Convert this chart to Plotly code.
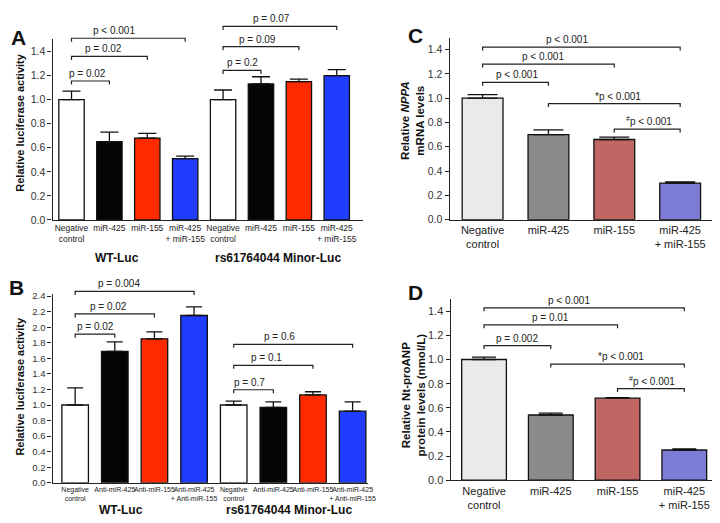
import plotly.graph_objects as go

W, H = 720, 523

# ---- data ----
a_labels = ["Negative<br>control", "miR-425", "miR-155", "miR-425<br>+ miR-155"] * 2
a_values = [1.00, 0.65, 0.68, 0.51, 1.00, 1.13, 1.15, 1.20]
a_errors = [0.07, 0.08, 0.04, 0.02, 0.08, 0.06, 0.02, 0.05]

b_labels = ["Negative<br>control", "Anti-miR-425", "Anti-miR-155",
            "Anti-miR-425<br>+ Anti-miR-155"] * 2
b_values = [1.00, 1.69, 1.85, 2.15, 1.00, 0.97, 1.13, 0.92]
b_errors = [0.22, 0.12, 0.09, 0.11, 0.05, 0.07, 0.04, 0.12]

c_labels = ["Negative<br>control", "miR-425", "miR-155", "miR-425<br>+ miR-155"]
c_values = [1.00, 0.70, 0.66, 0.30]
c_errors = [0.03, 0.04, 0.02, 0.01]

d_labels = ["Negative<br>control", "miR-425", "miR-155", "miR-425<br>+ miR-155"]
d_values = [1.00, 0.54, 0.68, 0.25]
d_errors = [0.02, 0.015, 0.005, 0.01]

# brackets: (left bar, right bar, level, text, text position)
a_brackets = [
    (0, 1, 1.155, "p = 0.02", 0.42),
    (0, 2, 1.36, "p = 0.02", 0.85),
    (0, 3, 1.51, "p < 0.001", 1.11),
    (4, 5, 1.243, "p = 0.2", 4.52),
    (4, 6, 1.44, "p = 0.09", 4.9),
    (4, 7, 1.609, "p = 0.07", 5.29),
]
b_brackets = [
    (0, 1, 1.91, "p = 0.02", 0.52),
    (0, 2, 2.17, "p = 0.02", 0.83),
    (0, 3, 2.46, "p = 0.004", 1.1),
    (4, 5, 1.196, "p = 0.7", 4.41),
    (4, 6, 1.51, "p = 0.1", 4.83),
    (4, 7, 1.78, "p = 0.6", 5.16),
]
c_brackets = [
    (0, 1, 1.13, "p < 0.001", 0.52),
    (0, 2, 1.28, "p < 0.001", 0.92),
    (0, 3, 1.42, "p < 0.001", 1.28),
    (1, 3, 0.956, "*p < 0.001", 2.05),
    (2, 3, 0.746, "<sup>#</sup>p < 0.001", 2.52),
]
d_brackets = [
    (0, 1, 1.116, "p = 0.002", 0.5),
    (0, 2, 1.287, "p = 0.01", 1.0),
    (0, 3, 1.428, "p < 0.001", 1.28),
    (1, 3, 0.962, "*p < 0.001", 2.05),
    (2, 3, 0.759, "<sup>#</sup>p < 0.001", 2.52),
]

bright = ["#ffffff", "#050505", "#ff2a00", "#1f3cff"] * 2
soft = ["#fafafa", "#919191", "#cc6a66", "#6f6fd2"]
soft_dots = ["#eeeeee", "#858585", "#c05f5b", "#6565c6"]

FONT = "Arial, Liberation Sans, sans-serif"
INK = "#222222"


def px_x(p):
    return p / W


def px_y(p):
    return 1 - p / H


# panel geometry: x domain px, y domain px (bottom, top), x range, y max
panels = {
    "A": dict(ax="", xd=(45, 358), yd=(212, 28), xr=(-0.5, 7.68), ymax=1.5,
              dtick=0.2, tickfont=10.5, catfont=8.5, barw=0.67, cap=9, drop=0.03),
    "B": dict(ax="2", xd=(45, 364), yd=(480, 288), xr=(-0.57, 7.4), ymax=2.42,
              dtick=0.2, tickfont=9.5, catfont=7, barw=0.67, cap=8, drop=0.045),
    "C": dict(ax="3", xd=(446, 712), yd=(211.7, 26), xr=(-0.5, 3.5), ymax=1.5,
              dtick=0.2, tickfont=10.5, catfont=11, barw=0.62, cap=15, drop=0.028),
    "D": dict(ax="4", xd=(447, 718), yd=(477.3, 292.8), xr=(-0.5, 3.52), ymax=1.5,
              dtick=0.2, tickfont=11, catfont=11, barw=0.67, cap=12, drop=0.028),
}

fig = go.Figure()
shapes = []
annotations = []


def add_panel(key, labels, values, errors, colors, brackets, dots=None):
    p = panels[key]
    n = len(values)
    xs = list(range(n))
    marker = dict(color=colors, line=dict(color="#111111", width=1.3))
    if dots:
        marker["pattern"] = dict(shape=".", fillmode="overlay", fgcolor=dots,
                                 size=2, solidity=0.2, fgopacity=0.5)
    fig.add_trace(go.Bar(
        x=xs, y=values, width=p["barw"], marker=marker,
        error_y=dict(type="data", symmetric=False, array=errors,
                     arrayminus=[0] * n, color="#111111", thickness=1.3,
                     width=p["cap"]),
        xaxis="x" + p["ax"], yaxis="y" + p["ax"], showlegend=False,
    ))
    fig.layout["xaxis" + p["ax"]] = dict(
        domain=[px_x(p["xd"][0]), px_x(p["xd"][1])], range=list(p["xr"]),
        anchor="y" + p["ax"], tickvals=xs, ticktext=labels, ticks="",
        tickangle=0, showline=True, linecolor=INK, linewidth=1.3, showgrid=False,
        zeroline=False, tickfont=dict(size=p["catfont"], color=INK, family=FONT),
    )
    fig.layout["yaxis" + p["ax"]] = dict(
        domain=[px_y(p["yd"][0]), px_y(p["yd"][1])], range=[0, p["ymax"]],
        anchor="x" + p["ax"], dtick=p["dtick"], tickformat=".1f",
        ticks="outside", ticklen=4, tickwidth=1.2, tickcolor=INK,
        showline=True, linecolor=INK, linewidth=1.3, showgrid=False,
        zeroline=False, tickfont=dict(size=p["tickfont"], color="#333333", family=FONT),
    )
    r0, r1 = p["xr"]
    xref, yref = "x%s domain" % p["ax"], "y%s domain" % p["ax"]

    def fx(v):
        return (v - r0) / (r1 - r0)

    def fy(v):
        return v / p["ymax"]

    for left, right, level, text, tx in brackets:
        top, bot = fy(level), fy(level - p["drop"])
        shapes.append(dict(
            type="path", xref=xref, yref=yref,
            path="M %f,%f L %f,%f L %f,%f L %f,%f" % (
                fx(left), bot, fx(left), top, fx(right), top, fx(right), bot),
            line=dict(color=INK, width=1.2),
        ))
        annotations.append(dict(
            x=fx(tx), y=top, xref=xref, yref=yref, text=text, showarrow=False,
            yanchor="bottom", xanchor="center", yshift=0,
            font=dict(size=10, color=INK, family=FONT),
        ))


add_panel("A", a_labels, a_values, a_errors, bright, a_brackets)
add_panel("B", b_labels, b_values, b_errors, bright, b_brackets)
add_panel("C", c_labels, c_values, c_errors, soft, c_brackets, soft_dots)
add_panel("D", d_labels, d_values, d_errors, soft, d_brackets, soft_dots)


def paper_text(text, x, y, size, angle=0):
    annotations.append(dict(
        x=px_x(x), y=px_y(y), xref="paper", yref="paper", text=text,
        showarrow=False, textangle=angle, xanchor="center", yanchor="middle",
        font=dict(size=size, color="#111111", family=FONT),
    ))


# panel letters
paper_text("<b>A</b>", 11, 26, 21)
paper_text("<b>B</b>", 9, 281, 21)
paper_text("<b>C</b>", 411, 24, 21)
paper_text("<b>D</b>", 411, 286, 21)

# y titles
paper_text("<b>Relative luciferase activity</b>", 12, 113, 11, -90)
paper_text("<b>Relative luciferase activity</b>", 12, 382, 11, -90)
paper_text("<b>Relative <i>NPPA</i><br>mRNA levels</b>", 409, 111, 11.5, -90)
paper_text("<b>Relative Nt-proANP<br>protein levels (nmol/L)</b>", 410, 391, 11.5, -90)

# group labels
paper_text("<b>WT-Luc</b>", 110, 251, 12)
paper_text("<b>rs61764044 Minor-Luc</b>", 273, 251, 12)
paper_text("<b>WT-Luc</b>", 114, 508, 12)
paper_text("<b>rs61764044 Minor-Luc</b>", 284, 508, 12)

fig.update_layout(
    width=W, height=H, margin=dict(l=0, r=0, t=0, b=0),
    paper_bgcolor="white", plot_bgcolor="white",
    shapes=shapes, annotations=annotations, showlegend=False,
    font=dict(family=FONT, color=INK),
)

fig.write_html("out.html")
